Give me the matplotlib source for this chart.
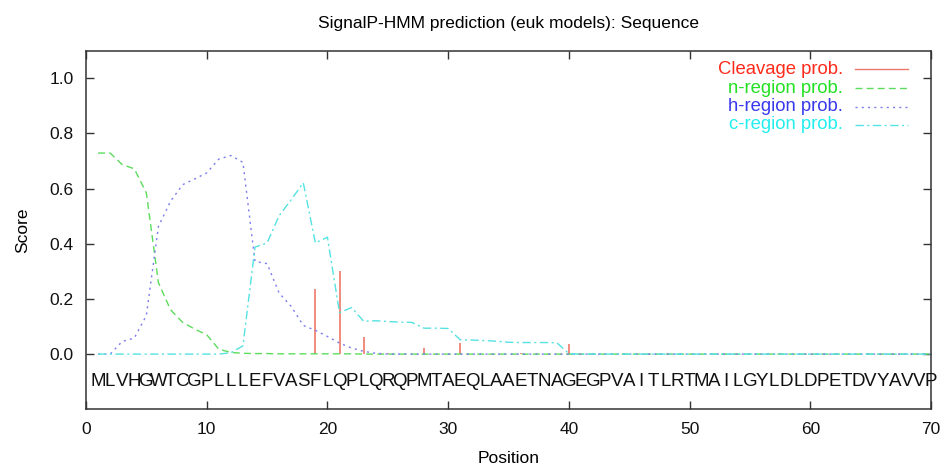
import matplotlib
matplotlib.use("Agg")
import matplotlib.pyplot as plt
import numpy as np

plt.rcParams["font.family"] = ["Liberation Sans", "DejaVu Sans"]

SEQUENCE = "MLVHGWTCGPLLLEFVASFLQPLQRQPMTAEQLAAETNAGEGPVAITLRTMAILGYLDLDPETDVYAVVP"
positions = np.arange(1, 71)

# n-region, positions 1..24, zero afterwards
n_region = [0.729, 0.729, 0.687, 0.672, 0.584, 0.259, 0.161, 0.115, 0.091, 0.070,
            0.018, 0.006, 0.003, 0.002, 0.002, 0.001, 0.001, 0.001, 0.001, 0.001,
            0.001, 0.001, 0.0, 0.0] + [0.0] * 46
h_region = [0.0, 0.0, 0.046, 0.058, 0.140, 0.463, 0.554, 0.614, 0.635, 0.657,
            0.707, 0.720, 0.695, 0.336, 0.328, 0.221, 0.173, 0.104, 0.086, 0.064,
            0.040, 0.022, 0.010, 0.003] + [0.0] * 46
c_region = [0.0, 0.0, 0.0, 0.0, 0.0, 0.0, 0.0, 0.0, 0.0, 0.0,
            0.0, 0.005, 0.030, 0.388, 0.403, 0.502, 0.560, 0.621, 0.403, 0.424,
            0.150, 0.169, 0.119, 0.121, 0.118, 0.116, 0.115, 0.094, 0.094, 0.093,
            0.052, 0.051, 0.049, 0.047, 0.043, 0.042, 0.042, 0.042, 0.041, 0.002] + [0.0] * 30
cleave_pos = [19, 21, 23, 25, 28, 31, 36, 40]
cleave_val = [0.236, 0.302, 0.062, 0.004, 0.022, 0.040, 0.004, 0.037]

C_RED, C_GREEN, C_BLUE, C_CYAN = "#ee7868", "#5cdc5c", "#7c7cee", "#55e2e2"
T_RED, T_GREEN, T_BLUE, T_CYAN = "#ff2a1a", "#22e022", "#3838ee", "#22eeee"

fig = plt.figure(figsize=(9.43, 4.67), dpi=100)
ax = fig.add_axes([0.0912, 0.1236, 0.8961, 0.7678])

ax.vlines(cleave_pos, 0, cleave_val, color=C_RED, lw=1.2)
ax.plot(positions, n_region, color=C_GREEN, lw=1.0, dashes=(5, 3))
ax.plot(positions, h_region, color=C_BLUE, lw=1.0, dashes=(1.5, 3))
ax.plot(positions, c_region, color=C_CYAN, lw=1.0, dashes=(6, 2.5, 1.5, 2.5))

for i, aa in enumerate(SEQUENCE):
    ax.text(positions[i], -0.1, aa, ha="center", va="center", fontsize=13.5, color="#111111")

ax.set_xlim(0, 70)
ax.set_ylim(-0.2, 1.1)
ax.set_xticks(np.arange(0, 71, 10))
ax.set_yticks(np.arange(0, 1.01, 0.2))
ax.set_yticklabels([f"{v:.1f}" for v in np.arange(0, 1.01, 0.2)])
ax.tick_params(direction="in", length=6, width=1, top=True, right=True,
               labelsize=12.5, colors="#333333", labelcolor="#111111")
ax.tick_params(axis="y", pad=9)
ax.tick_params(axis="x", pad=9)
for sp in ax.spines.values():
    sp.set_color("#333333")
    sp.set_linewidth(1.1)

ax.set_xlabel("Position", fontsize=12.5, labelpad=10)
ax.set_ylabel("Score", fontsize=12.5, labelpad=14)
ax.set_title("SignalP-HMM prediction (euk models): Sequence", fontsize=12.5, pad=16)

# gnuplot style key, text right-aligned with the sample on the right
labels = ["Cleavage prob.", "n-region prob.", "h-region prob.", "c-region prob."]
text_cols = [T_RED, T_GREEN, T_BLUE, T_CYAN]
line_cols = [C_RED, C_GREEN, C_BLUE, C_CYAN]
line_dash = [None, (5, 3), (1.5, 3), (6, 2.5, 1.5, 2.5)]
rows_y = [0.949, 0.896, 0.844, 0.793]
for lab, tc, lc, ds, yy in zip(labels, text_cols, line_cols, line_dash, rows_y):
    ax.text(0.896, yy, lab, color=tc, fontsize=13.3, ha="right", va="center",
            transform=ax.transAxes)
    ln, = ax.plot([0.910, 0.973], [yy, yy], color=lc, lw=1.0, transform=ax.transAxes)
    if ds:
        ln.set_dashes(ds)

fig.savefig("out.png", dpi=100)
